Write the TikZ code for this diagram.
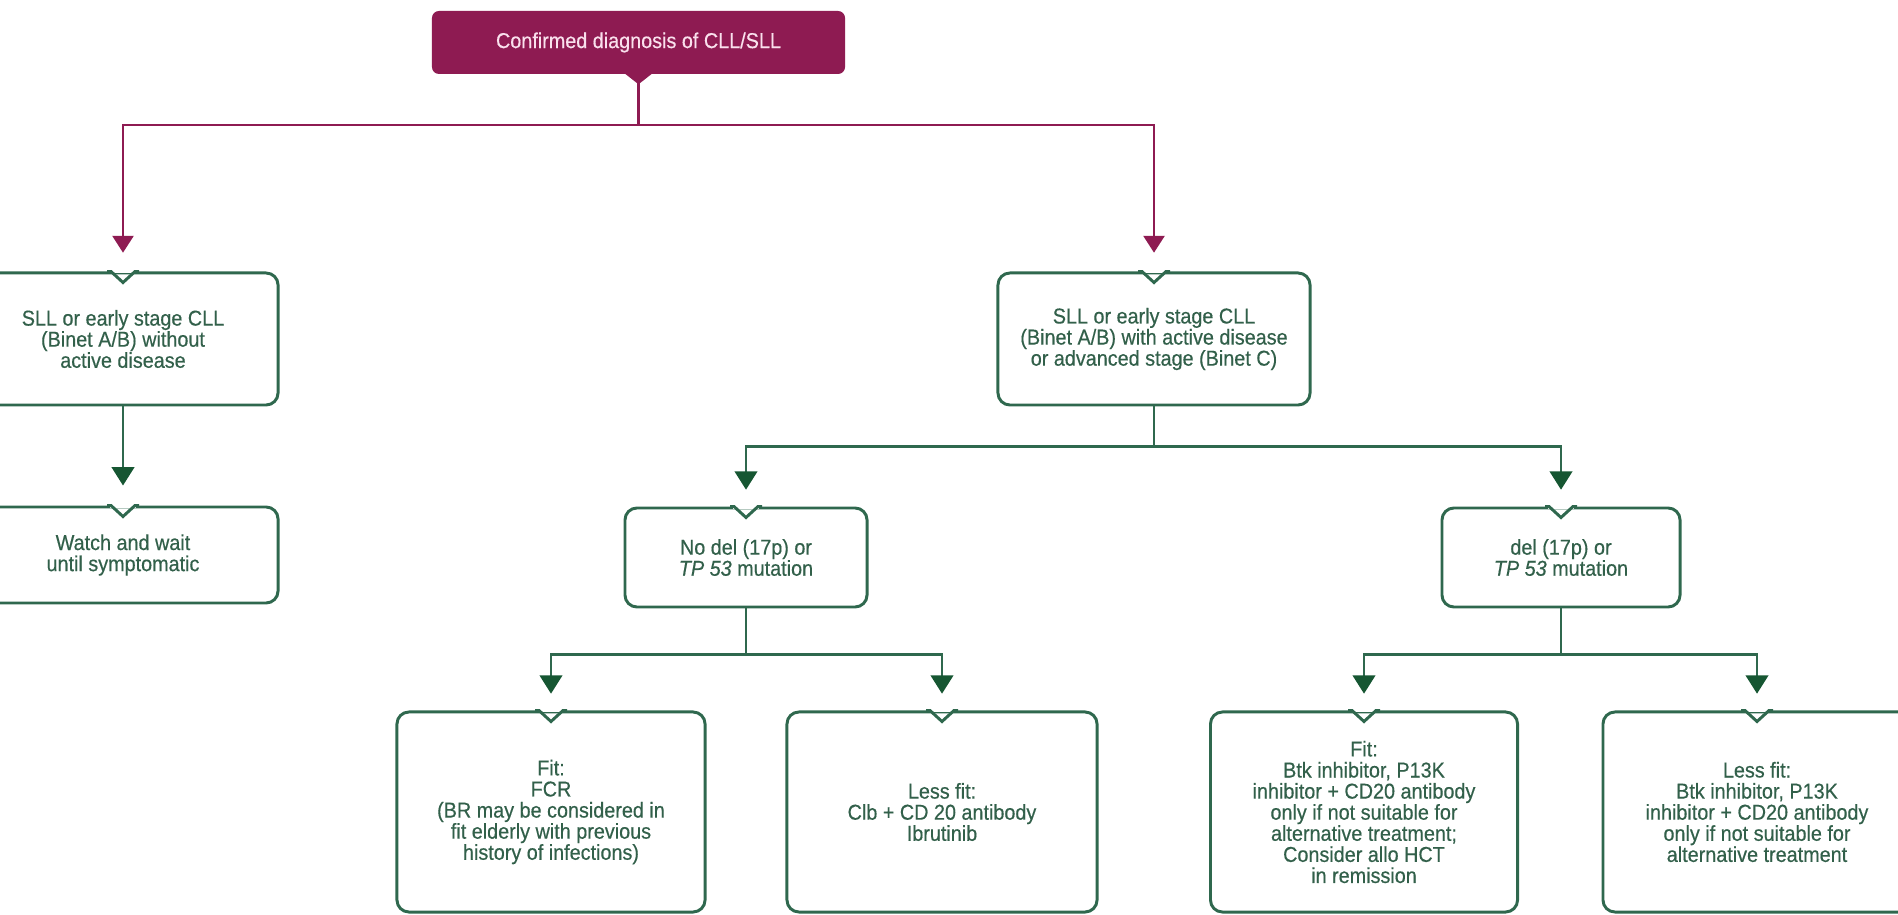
\documentclass[tikz,border=0pt]{standalone}
\usepackage{fontspec}
\setmainfont{Liberation Sans}[FakeStretch=0.92,FakeBold=0.4]
\usepackage{tikz}
\usetikzlibrary{arrows.meta,calc}

\definecolor{cllplum}{RGB}{142,27,82}
\definecolor{cllpink}{RGB}{250,224,237}
\definecolor{cllgreen}{RGB}{47,104,78}
\definecolor{cllarrow}{RGB}{22,86,50}
\definecolor{clltext}{RGB}{50,96,74}

\begin{document}
\begin{tikzpicture}[x=0.025cm,y=0.025cm,
  font=\fontsize{15.3}{15}\selectfont,
  greenbox/.style={draw=cllgreen, line width=2.1pt, fill=white, rounded corners=8.5pt,
    align=center, text=clltext, inner sep=0pt},
  plumbox/.style={fill=cllplum, rounded corners=5pt, text=cllpink, inner sep=0pt},
  plumarrow/.style={draw=cllplum, line width=1.6pt,
    -{Triangle[width=15pt,length=12pt]}, shorten >=0.47cm},
  grnarrow/.style={draw=cllgreen, line width=1.6pt,
    -{Triangle[width=16pt,length=13pt,color=cllarrow]}, shorten >=0.42cm},
  notchline/.style={draw=cllgreen, line width=2.1pt, line join=miter}]

\useasboundingbox (0,0) rectangle (1898,914);
\clip (0,0) rectangle (1898,914);

% top
\node[plumbox, minimum width=10.325cm, minimum height=1.575cm] (diag) at (638.5,871.5)
  {Confirmed diagnosis of CLL/SLL};
\fill[cllplum] ($(diag.south)+(-14,1)$) -- ($(diag.south)+(0,-10)$) -- ($(diag.south)+(14,1)$) -- cycle;

% second row
\node[greenbox, minimum width=7.75cm, minimum height=3.3cm] (early) at (123,575)
  {SLL or early stage CLL\\(Binet A/B) without\\active disease};
\node[greenbox, minimum width=7.8cm, minimum height=3.3cm] (active) at (1154,575)
  {SLL or early stage CLL\\(Binet A/B) with active disease\\or advanced stage (Binet C)};

% third row
\node[greenbox, minimum width=7.75cm, minimum height=2.4cm] (watch) at (123,359)
  {Watch and wait\\until symptomatic};
\node[greenbox, minimum width=6.05cm, minimum height=2.475cm] (nodel) at (746,356.5)
  {No del (17p) or\\\textit{TP 53} mutation};
\node[greenbox, minimum width=5.95cm, minimum height=2.475cm] (del) at (1561,356.5)
  {del (17p) or\\\textit{TP 53} mutation};

% bottom row
\node[greenbox, minimum width=7.7cm, minimum height=5cm] (fcr) at (551,102)
  {Fit:\\FCR\\(BR may be considered in\\fit elderly with previous\\history of infections)};
\node[greenbox, minimum width=7.75cm, minimum height=5cm] (lessa) at (942,102)
  {Less fit:\\Clb + CD 20 antibody\\Ibrutinib};
\node[greenbox, minimum width=7.675cm, minimum height=5cm] (fitb) at (1364,102)
  {Fit:\\Btk inhibitor, P13K\\inhibitor + CD20 antibody\\only if not suitable for\\alternative treatment;\\Consider allo HCT\\in remission};
\node[greenbox, minimum width=7.7cm, minimum height=5cm] (lessb) at (1757,102)
  {Less fit:\\Btk inhibitor, P13K\\inhibitor + CD20 antibody\\only if not suitable for\\alternative treatment};

% notches
\foreach \n in {early,active,watch,nodel,del,fcr,lessa,fitb,lessb} {
  \fill[white] ($(\n.north)+(-13,-2)$) rectangle ($(\n.north)+(13,2)$);
  \draw[notchline] ($(\n.north)+(-16,0)$) -- ($(\n.north)+(-12,0)$) -- ($(\n.north)+(0,-11)$)
    -- ($(\n.north)+(12,0)$) -- ($(\n.north)+(16,0)$);
}

% connectors
\draw[plumarrow] (diag.south) -- ++(0,-51) -| (early.north);
\draw[plumarrow] (diag.south) -- ++(0,-51) -| (active.north);
\draw[grnarrow, shorten >=0.5cm] (early.south) -- (watch.north);
\draw[grnarrow] (active.south) -- ++(0,-40) -| (nodel.north);
\draw[grnarrow] (active.south) -- ++(0,-40) -| (del.north);
\draw[grnarrow] (nodel.south) -- ++(0,-46) -| (fcr.north);
\draw[grnarrow] (nodel.south) -- ++(0,-46) -| (lessa.north);
\draw[grnarrow] (del.south) -- ++(0,-46) -| (fitb.north);
\draw[grnarrow] (del.south) -- ++(0,-46) -| (lessb.north);

\end{tikzpicture}
\end{document}
